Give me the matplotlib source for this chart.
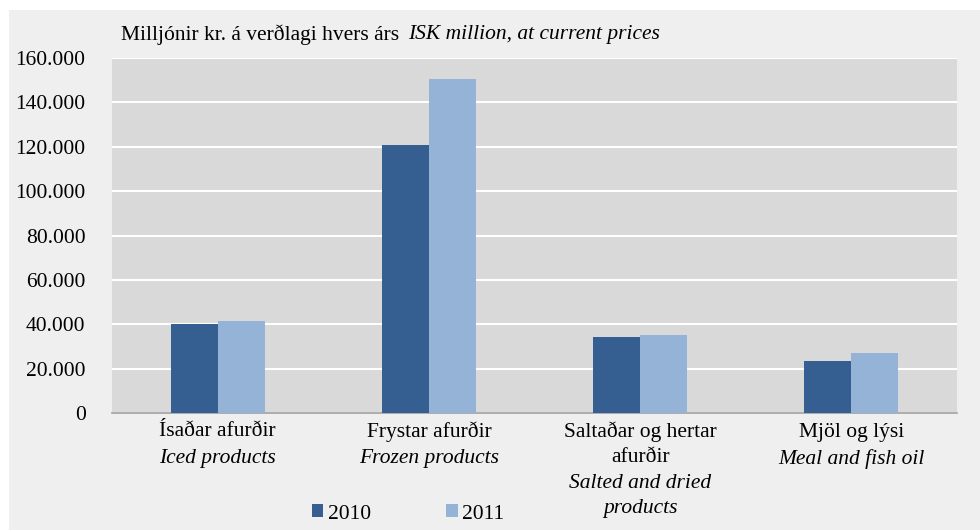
import numpy as np
import matplotlib
matplotlib.use("Agg")
import matplotlib.pyplot as plt
from matplotlib.patches import Rectangle
from matplotlib.ticker import FuncFormatter
from matplotlib.transforms import blended_transform_factory

categories_is = ["Ísaðar afurðir", "Frystar afurðir", "Saltaðar og hertar\nafurðir", "Mjöl og lýsi"]
categories_en = ["Iced products", "Frozen products", "Salted and dried\nproducts", "Meal and fish oil"]
years = ["2010", "2011"]
values_2010 = [40100, 120800, 34400, 23600]
values_2011 = [41700, 150600, 35100, 27300]
colors = ["#355f91", "#95b3d7"]

plt.rcParams["font.family"] = ["Liberation Serif", "DejaVu Serif"]
FS = 15.5

fig = plt.figure(figsize=(9.8, 5.3), dpi=100, facecolor="white")
# light gray panel behind everything
fig.patches.append(Rectangle((9 / 980, 0), 1, 1 - 10 / 530, transform=fig.transFigure,
                             facecolor="#efefef", edgecolor="none", zorder=-5))

ax = fig.add_axes([112 / 980, 1 - 413.3 / 530, (957 - 112) / 980, (413.3 - 58) / 530])
ax.set_facecolor("#d9d9d9")

x = np.arange(len(categories_is))
w = 0.222
ax.bar(x - w / 2, values_2010, w, color=colors[0], label=years[0], zorder=3)
ax.bar(x + w / 2, values_2011, w, color=colors[1], label=years[1], zorder=3)

ax.set_xlim(-0.5, len(x) - 0.5)
ax.set_ylim(0, 160000)
ax.set_yticks(np.arange(0, 160001, 20000))
ax.yaxis.set_major_formatter(FuncFormatter(lambda v, p: f"{int(v):,}".replace(",", ".")))
ax.grid(axis="y", color="white", linewidth=1.5, zorder=1)
ax.set_axisbelow(True)
ax.tick_params(axis="y", length=0, pad=19, labelsize=FS)
ax.tick_params(axis="x", length=0)
ax.set_xticks(x)
ax.set_xticklabels([])
for s in ["top", "right", "left"]:
    ax.spines[s].set_visible(False)
ax.spines["bottom"].set_color("#a0a0a0")
ax.spines["bottom"].set_linewidth(1.2)

# category labels, Icelandic upright then English italic
tr = blended_transform_factory(ax.transData, fig.transFigure)
for i in range(len(x)):
    y = 432
    for line in categories_is[i].split("\n"):
        ax.text(x[i], 1 - y / 530, line, transform=tr, ha="center", va="center", fontsize=FS)
        y += 25
    y += 2
    for line in categories_en[i].split("\n"):
        ax.text(x[i], 1 - y / 530, line, transform=tr, ha="center", va="center",
                fontsize=FS, style="italic")
        y += 25

# title in two styles
t1 = fig.text(121 / 980, 1 - 35 / 530, "Milljónir kr. á verðlagi hvers árs", fontsize=FS, va="center")
fig.canvas.draw()
bb = t1.get_window_extent()
fig.text((bb.x1 + 9) / 980, 1 - 35 / 530, "ISK million, at current prices",
         fontsize=FS, va="center", style="italic")

ax.legend(loc="center", bbox_to_anchor=(408 / 980, 1 - 514 / 530), bbox_transform=fig.transFigure,
          ncol=2, frameon=False, fontsize=FS, handlelength=0.55, handleheight=0.55,
          handletextpad=0.2, columnspacing=3.5, borderpad=0)

fig.savefig("out.png", dpi=100, facecolor="white")
